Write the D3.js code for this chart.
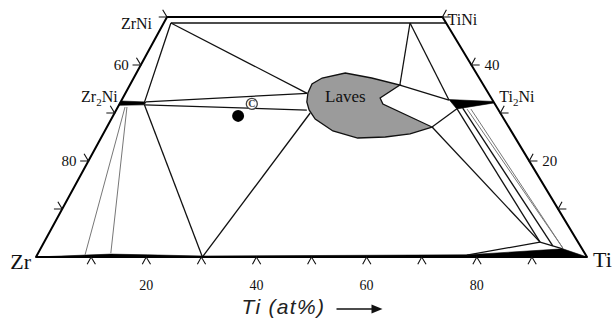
<!DOCTYPE html>
<html>
<head>
<meta charset="utf-8">
<script src="https://cdn.jsdelivr.net/npm/d3@7"></script>
<style>
  html, body { margin: 0; padding: 0; background: #fff; }
  svg { display: block; }
</style>
</head>
<body>
<svg id="chart" width="613" height="321"></svg>
<script>
// compositions are [Ti at%, Ni at%], Zr is the balance
const corners      = [[0, 0], [0, 50], [50, 50], [100, 0]];   // Zr, ZrNi, TiNi, Ti
const bottomTicks  = [10, 20, 30, 40, 50, 60, 70, 80, 90];    // Ti %
const bottomLabels = [20, 40, 60, 80];
const leftTicks    = [50, 60, 70, 80, 90];                    // Zr %
const leftLabels   = [60, 80];
const rightTicks   = [50, 40, 30, 20, 10];                    // Ni %
const rightLabels  = [40, 20];

const boundaries = [
  [[1.3, 48.75], [51.25, 48.75]],
  [[1.3, 48.75], [4.4, 32.0]],
  [[1.3, 48.75], [33.0, 34.1]],
  [[4.6, 32.3], [33.0, 34.1]],
  [[4.6, 31.7], [34.6, 30.6]],
  [[4.6, 31.7], [30.2, 0]],
  [[30.2, 0], [35.5, 30.0]],
  [[49.0, 35.83], [44.7, 48.75]],
  [[44.7, 48.75], [59.4, 32.7]],
  [[49.0, 35.83], [59.4, 32.7]],
  [[59.0, 27.08], [61.7, 30.9]],
  [[59.0, 27.08], [90.0, 3.1]],
  [[61.7, 30.9], [90.0, 3.1]],
  [[62.7, 31.0], [92.7, 2.3]],
  [[78.0, 0.4], [90.0, 3.1]],
  [[90.0, 3.1], [94.8, 1.7]]
];
const tieLines = [
  [[1.3, 31.25], [8.7, 0.4]],
  [[1.65, 31.25], [13.2, 0.8]],
  [[63.6, 30.8], [94.8, 1.8]],
  [[64.3, 30.8], [94.8, 1.8]]
];
const lavesField = [
  [33.1, 34.17], [32.95, 36.04], [34.2, 37.29], [37.9, 38.33], [43.2, 37.29],
  [49.0, 35.83], [46.7, 33.13], [47.8, 31.88], [59.0, 27.08], [55.7, 25.63],
  [51.5, 25.0], [46.6, 24.79], [41.4, 26.25], [37.0, 28.75], [35.0, 30.63], [33.8, 32.29]
];
const zr2NiField = [[0, 32.5], [4.6, 32.3], [4.6, 31.7], [0, 31.6]];
const ti2NiField = [[59.35, 32.8], [67.6, 32.4], [67.9, 32.1], [61.7, 30.85]];
const betaField  = [[0, 0], [13.3, 0.6], [20, 0.45], [30.2, 0.2], [78, 0.45], [94.8, 1.7], [100, 0]];
const alloyOpen  = [[24.0, 31.9]];
const alloyFull  = [[22.7, 29.4]];

const svg  = d3.select("#chart");
const SKEW = 0.4755;
const x    = d3.scaleLinear().domain([0, 100]).range([36, 587]);
const y    = d3.scaleLinear().domain([0, 100]).range([257, -223]);
const px   = d => x(d[0] + SKEW * d[1]);
const py   = d => y(d[1]);
const line = d3.line().x(px).y(py);
const serif = "Liberation Serif";

// Fields
svg.append("path").attr("d", line(lavesField) + "Z")
  .attr("fill", "#9b9b9b").attr("stroke", "#111").attr("stroke-width", 1.3);
[zr2NiField, ti2NiField, betaField].forEach(f => {
  svg.append("path").attr("d", line(f) + "Z")
    .attr("fill", "#000").attr("stroke", "#000").attr("stroke-width", 0.6);
});

// Phase boundaries
svg.append("g").selectAll("path").data(boundaries).join("path")
  .attr("d", line).attr("fill", "none").attr("stroke", "#111").attr("stroke-width", 1.3);
svg.append("g").selectAll("path").data(tieLines).join("path")
  .attr("d", line).attr("fill", "none").attr("stroke", "#777").attr("stroke-width", 1);

// Frame
svg.append("path").attr("d", line(corners) + "Z")
  .attr("fill", "none").attr("stroke", "#000").attr("stroke-width", 2).attr("stroke-linejoin", "round");

// Ticks
const d = 1.5;
const tick = (p, a, b) => `M${px(a)},${py(a)}L${px(p)},${py(p)}L${px(b)},${py(b)}`;
const ticks = svg.append("g").attr("fill", "none").attr("stroke", "#111").attr("stroke-width", 1.1);
bottomTicks.forEach(t => ticks.append("path").attr("d", tick([t, 0], [t, -d], [t + d, -d])));
leftTicks.forEach(z => { const n = 100 - z;
  ticks.append("path").attr("d", tick([0, n], [-d, n + d], [-d, n])); });
rightTicks.forEach(n => { const t = 100 - n;
  ticks.append("path").attr("d", tick([t, n], [t, n + d], [t + d, n])); });

// Tick labels
const lab = svg.append("g").attr("font-family", serif).attr("font-size", 15).attr("fill", "#111");
bottomLabels.forEach(t => lab.append("text").attr("x", px([t, 0])).attr("y", py([t, 0]) + 33)
  .attr("text-anchor", "middle").attr("font-size", 14).text(t));
leftLabels.forEach(z => lab.append("text").attr("x", px([0, 100 - z]) - 12).attr("y", py([0, 100 - z]) + 5)
  .attr("text-anchor", "end").text(z));
rightLabels.forEach(n => lab.append("text").attr("x", px([100 - n, n]) + 13).attr("y", py([100 - n, n]) + 5)
  .text(n));

// Phase names
const nm = svg.append("g").attr("font-family", serif).attr("font-size", 16).attr("fill", "#111");
nm.append("text").attr("x", px([0, 50]) - 15).attr("y", py([0, 50]) + 12).attr("text-anchor", "end").text("ZrNi");
nm.append("text").attr("x", px([50, 50]) + 5).attr("y", py([50, 50]) + 8).text("TiNi");
const sub = (g, xx, yy, a, b, anchor) => {
  const t = g.append("text").attr("x", xx).attr("y", yy).attr("text-anchor", anchor);
  t.append("tspan").text(a);
  t.append("tspan").attr("font-size", 11).attr("dy", 4).text("2");
  t.append("tspan").attr("dy", -4).text(b);
};
sub(nm, px([0, 32.3]) - 3, py([0, 32.3]) + 0, "Zr", "Ni", "end");
sub(nm, px([67.6, 32.4]) + 6, py([67.6, 32.4]) + 1, "Ti", "Ni", "start");
nm.append("text").attr("x", px([37.1, 32.3])).attr("y", py([37.1, 32.3])).attr("font-size", 17).text("Laves");
nm.append("text").attr("x", px([0, 0]) - 5).attr("y", py([0, 0]) + 12).attr("font-size", 22)
  .attr("text-anchor", "end").text("Zr");
nm.append("text").attr("x", px([100, 0]) + 6).attr("y", py([100, 0]) + 10).attr("font-size", 22).text("Ti");

// Alloys
svg.selectAll(".full").data(alloyFull).join("circle").attr("class", "full")
  .attr("cx", px).attr("cy", py).attr("r", 6).attr("fill", "#000");
const op = svg.selectAll(".open").data(alloyOpen).join("g").attr("class", "open");
op.append("circle").attr("cx", px).attr("cy", py).attr("r", 5.5)
  .attr("fill", "#fff").attr("stroke", "#444").attr("stroke-width", 1.3);
op.append("text").attr("x", px).attr("y", d => py(d) + 3.5).attr("text-anchor", "middle")
  .attr("font-family", serif).attr("font-size", 10).attr("font-weight", "bold").attr("fill", "#444").text("C");

// Axis title
const tx = px([50, 0]) - 70, ty = py([50, 0]) + 57;
svg.append("text").attr("x", tx).attr("y", ty)
  .attr("font-family", "Liberation Sans").attr("font-style", "italic")
  .attr("font-size", 21).attr("letter-spacing", 1.3).attr("fill", "#222").text("Ti (at%)");
svg.append("line").attr("x1", tx + 95).attr("x2", tx + 132).attr("y1", ty - 5).attr("y2", ty - 5)
  .attr("stroke", "#111").attr("stroke-width", 1.4);
svg.append("path").attr("d", `M${tx + 130},${ty - 9.5}L${tx + 141},${ty - 5}L${tx + 130},${ty - 0.5}Z`).attr("fill", "#111");
</script>
</body>
</html>
